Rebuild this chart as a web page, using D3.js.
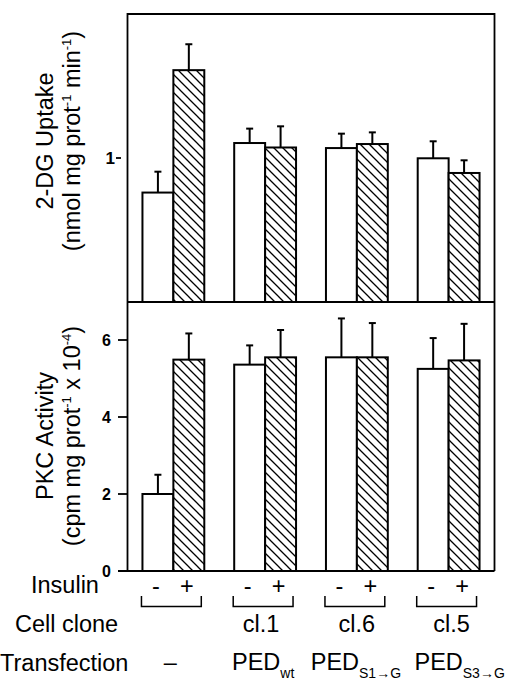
<!DOCTYPE html>
<html><head><meta charset="utf-8">
<script src="https://cdn.jsdelivr.net/npm/d3@7/dist/d3.min.js"></script>
<style>body{margin:0;background:#fff}svg{display:block}text{font-family:"Liberation Sans",Arial,Helvetica,sans-serif;fill:#000}</style>
</head><body><svg id="c" width="520" height="686"></svg>
<script>
const groups = ["ctrl","cl.1","cl.6","cl.5"];
const conditions = ["-","+"];
const cloneLabels = ["","cl.1","cl.6","cl.5"];
const transMain = ["–","PED","PED","PED"];
const transSub = ["","wt","S1→G","S3→G"];
// 2-DG uptake (nmol mg prot-1 min-1)
const uptakeMinus = [0.76, 1.104, 1.069, 0.998];
const uptakeMinusErr = [0.145, 0.10, 0.10, 0.118];
const uptakePlus = [1.61, 1.073, 1.097, 0.896];
const uptakePlusErr = [0.18, 0.147, 0.081, 0.088];
// PKC activity (cpm mg prot-1 x 10-4)
const pkcMinus = [2.0, 5.36, 5.55, 5.25];
const pkcMinusErr = [0.5, 0.5, 1.01, 0.80];
const pkcPlus = [5.49, 5.55, 5.55, 5.47];
const pkcPlusErr = [0.68, 0.71, 0.89, 0.95];
const topTicks = [1];
const bottomTicks = [0, 2, 4, 6];

const svg = d3.select("#c");
const L = 127.5, R = 494.5;
const defs = svg.append("defs");
const pat = defs.append("pattern").attr("id","hatch").attr("patternUnits","userSpaceOnUse")
  .attr("width",9).attr("height",9);
pat.append("rect").attr("width",9).attr("height",9).attr("fill","#fff");
pat.append("path").attr("d","M-2,-2L11,11M-2,7L2,11M7,-2L11,2").attr("stroke","#000").attr("stroke-width",1.3);

const xg = d3.scaleBand().domain(groups).range([L, R]).paddingInner(0.326).paddingOuter(0.163);
const xc = d3.scaleBand().domain(conditions).range([0, xg.bandwidth()]);

const yTop = d3.scaleLinear().domain([0, 2]).range([302, 14]);
const yBot = d3.scaleLinear().domain([0, 7]).range([571, 301.5]);

function panel(y, minus, minusErr, plus, plusErr) {
  const data = [];
  groups.forEach((g,i)=>{
    data.push({g, c:"-", v:minus[i], e:minusErr[i]});
    data.push({g, c:"+", v:plus[i], e:plusErr[i]});
  });
  const gp = svg.append("g");
  const cxf = d=>xg(d.g)+xc(d.c)+xc.bandwidth()/2;
  gp.selectAll("line.err").data(data).join("line")
    .attr("x1", cxf).attr("x2", cxf)
    .attr("y1", d=>y(d.v)).attr("y2", d=>y(d.v+d.e)).attr("stroke","#000").attr("stroke-width",2);
  gp.selectAll("line.cap").data(data).join("line")
    .attr("x1", d=>cxf(d)-3.5).attr("x2", d=>cxf(d)+3.5)
    .attr("y1", d=>y(d.v+d.e)).attr("y2", d=>y(d.v+d.e)).attr("stroke","#000").attr("stroke-width",2);
  gp.selectAll("rect").data(data).join("rect")
    .attr("x", d=>xg(d.g)+xc(d.c)).attr("width", xc.bandwidth())
    .attr("y", d=>y(d.v)).attr("height", d=>y(0)-y(d.v))
    .attr("fill", d=>d.c==="+"?"url(#hatch)":"#fff").attr("stroke","#000").attr("stroke-width",2);
}
panel(yTop, uptakeMinus, uptakeMinusErr, uptakePlus, uptakePlusErr);
panel(yBot, pkcMinus, pkcMinusErr, pkcPlus, pkcPlusErr);

// frame
const fr = svg.append("g").attr("stroke","#000").attr("stroke-width",1.8).attr("fill","none");
fr.append("path").attr("d",`M${L},${yBot(0)}V${yTop(2)}H${R}V${yBot(0)}`);
fr.append("line").attr("x1",L).attr("x2",R).attr("y1",yTop(0)).attr("y2",yTop(0));
fr.append("line").attr("x1",118).attr("x2",R).attr("y1",yBot(0)).attr("y2",yBot(0));

// ticks
topTicks.forEach(t=>{
  svg.append("line").attr("x1",116).attr("x2",121).attr("y1",yTop(t)).attr("y2",yTop(t)).attr("stroke","#000").attr("stroke-width",1.8);
  svg.append("text").attr("x",115).attr("y",yTop(t)+5.5).attr("text-anchor","end").attr("font-size",17).attr("font-weight","bold").text(t);
});
bottomTicks.forEach(t=>{
  if (t>0) svg.append("line").attr("x1",118).attr("x2",L).attr("y1",yBot(t)).attr("y2",yBot(t)).attr("stroke","#000").attr("stroke-width",1.8);
  svg.append("text").attr("x",111).attr("y",yBot(t)+5.5).attr("text-anchor","end").attr("font-size",16).attr("font-weight","bold").text(t);
});

// y titles
const fs = 23.5;
function ytitle(cy, line1, parts) {
  svg.append("text").attr("transform",`translate(53,${cy}) rotate(-90)`).attr("text-anchor","middle").attr("font-size",fs).text(line1);
  const t = svg.append("text").attr("transform",`translate(80,${cy}) rotate(-90)`).attr("text-anchor","middle").attr("font-size",fs);
  parts.forEach(p=>{
    if (p.sup) t.append("tspan").attr("font-size",13).attr("dy",-9).text(p.s);
    else t.append("tspan").attr("dy", p.after ? 9 : 0).text(p.s);
  });
}
ytitle(141, "2-DG Uptake", [{s:"(nmol mg prot"},{s:"-1",sup:true},{s:" min",after:true},{s:"-1",sup:true},{s:")",after:true}]);
ytitle(436, "PKC Activity", [{s:"(cpm mg prot"},{s:"-1",sup:true},{s:" x 10",after:true},{s:"-4",sup:true},{s:")",after:true}]);

// x annotations
svg.append("text").attr("x",31).attr("y",593).attr("font-size",fs).text("Insulin");
svg.append("text").attr("x",15).attr("y",632).attr("font-size",fs).text("Cell clone");
svg.append("text").attr("x",0).attr("y",671).attr("font-size",fs).text("Transfection");
const cloneDx = [0,-4,0,3];
const transDx = [-3,-2,-1,11];
groups.forEach((g,i)=>{
  conditions.forEach(c=>{
    svg.append("text").attr("x",xg(g)+xc(c)+xc.bandwidth()/2-2).attr("y",594).attr("text-anchor","middle").attr("font-size",fs).text(c);
  });
  const x0 = xg(g)-1, x1 = xg(g)+xg.bandwidth()-3;
  svg.append("path").attr("d",`M${x0},596V606.5H${x1}V596`).attr("fill","none").attr("stroke","#000").attr("stroke-width",1.5);
  const cx = xg(g)+xg.bandwidth()/2;
  if (cloneLabels[i]) svg.append("text").attr("x",cx+cloneDx[i]).attr("y",632).attr("text-anchor","middle").attr("font-size",fs).text(cloneLabels[i]);
  const tt = svg.append("text").attr("x",cx + transDx[i]).attr("y",670).attr("text-anchor","middle").attr("font-size",fs);
  tt.append("tspan").text(transMain[i]);
  if (transSub[i]) tt.append("tspan").attr("font-size",14).attr("dy",8).text(transSub[i]);
});
</script></body></html>
